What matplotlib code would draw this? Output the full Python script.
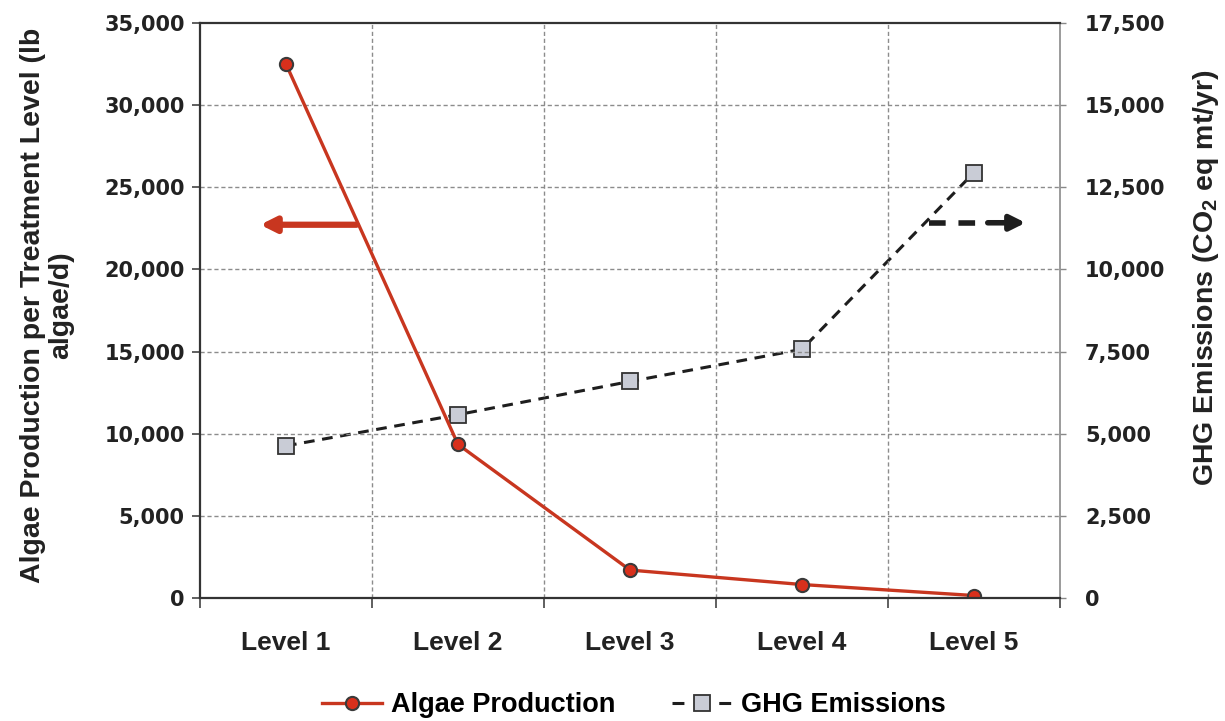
import matplotlib.pyplot as plt
from matplotlib.lines import Line2D
import numpy as np

plt.rcParams.update({
    "font.family": ["Liberation Sans", "DejaVu Sans"],
    "font.weight": "bold",
    "mathtext.default": "regular",
})

levels = ["Level 1", "Level 2", "Level 3", "Level 4", "Level 5"]
algae = [32500, 9350, 1700, 820, 150]        # lb algae/d
ghg = [4630, 5580, 6590, 7570, 12950]        # CO2 eq mt/yr

# arrow annotations (data coords)
red_arrow = ((0.41, 22720), (-0.15, 22720))
black_arrow = ((3.74, 11420), (4.30, 11420))

x = np.arange(len(levels))

fig = plt.figure(figsize=(12.25, 7.21), dpi=100)
ax = fig.add_axes([200/1225, 123/721, 860/1225, 575/721])
ax2 = ax.twinx()
ax.set_zorder(ax2.get_zorder() + 1)
ax.patch.set_visible(False)

ghg_kw = dict(color='#1e1e1e', linewidth=2.2, marker='s', markersize=11,
              markerfacecolor='#c9ccd6', markeredgecolor='#333333', markeredgewidth=1.3)
l2, = ax2.plot(x, ghg, linestyle=(0, (3.5, 2.5)), **ghg_kw)
l1, = ax.plot(x, algae, color='#c8361f', linewidth=2.4,
              marker='o', markersize=9.5, markerfacecolor='#d8301c',
              markeredgecolor='#3a3a3a', markeredgewidth=1.5, label="Algae Production")

ax.set_xlim(-0.5, 4.5)
ax.set_ylim(0, 35000)
ax2.set_ylim(0, 17500)

ax.set_yticks(np.arange(0, 35001, 5000))
ax2.set_yticks(np.arange(0, 17501, 2500))
ax.set_yticklabels([f"{v:,}" for v in range(0, 35001, 5000)],
                   family="DejaVu Sans", fontsize=15, fontweight='bold', color='#222222')
ax2.set_yticklabels([f"{v:,}" for v in range(0, 17501, 2500)],
                    family="DejaVu Sans", fontsize=15, fontweight='bold', color='#222222')

# category boundaries carry ticks + grid, labels sit at centres
ax.set_xticks(np.arange(-0.5, 4.6, 1.0))
ax.set_xticklabels([])
ax.set_xticks(x, minor=True)
ax.set_xticklabels(levels, minor=True, fontsize=19, fontweight='bold', color='#222222')
ax.tick_params(axis='x', which='minor', length=0, pad=24)
ax.tick_params(axis='x', which='major', length=7, width=1.2, color='#444444', direction='out')
ax.tick_params(axis='y', length=6, width=1.2, color='#444444', pad=5)
ax2.tick_params(axis='y', length=4, width=1, color='#888888', pad=14)

grid_style = dict(color='#8c8c8c', linestyle=(0, (3, 2)), linewidth=1)
for gx in np.arange(0.5, 4.0, 1.0):
    ax.axvline(gx, **grid_style, zorder=0)
for gy in range(5000, 35000, 5000):
    ax.axhline(gy, **grid_style, zorder=0)

for side in ['left', 'bottom', 'top']:
    ax.spines[side].set_color('#333333')
    ax.spines[side].set_linewidth(1.6)
ax.spines['right'].set_visible(False)
for side in ['left', 'bottom', 'top']:
    ax2.spines[side].set_visible(False)
ax2.spines['right'].set_color('#8a8a8a')
ax2.spines['right'].set_linewidth(1.2)

ax.set_ylabel("Algae Production per Treatment Level (lb\nalgae/d)",
              fontsize=20.5, fontweight='bold', color='#222222', linespacing=1.12)
ax.yaxis.set_label_coords(-0.178, 0.509)
ax.yaxis.label.set_verticalalignment('center')

ax2.set_ylabel("GHG Emissions (CO$_2$ eq mt/yr)", fontsize=20.5,
               fontweight='bold', color='#222222', rotation=90)
ax2.yaxis.set_label_coords(1.170, 0.557)
ax2.yaxis.label.set_verticalalignment('center')

# direction arrows
ax.annotate("", xy=red_arrow[1], xytext=red_arrow[0],
            arrowprops=dict(arrowstyle='-|>,head_length=0.9,head_width=0.45',
                            color='#c8361f', lw=4.5, shrinkA=0, shrinkB=0))
ax2.plot([black_arrow[0][0], 4.05], [black_arrow[0][1], black_arrow[1][1]],
         color='#1e1e1e', linewidth=4, linestyle=(0, (3.0, 2.3)), solid_capstyle='butt')
ax2.annotate("", xy=black_arrow[1], xytext=(4.08, black_arrow[1][1]),
             arrowprops=dict(arrowstyle='-|>,head_length=0.9,head_width=0.45',
                             color='#1e1e1e', lw=4, shrinkA=0, shrinkB=0))

# legend proxy so the dashed handle reads "- [] -"
ghg_handle = Line2D([], [], linestyle=(0, (3.9, 11.4)), label="GHG Emissions", **ghg_kw)
fig.legend(handles=[l1, ghg_handle], loc='center', bbox_to_anchor=(634/1225, 16/721),
           ncol=2, frameon=False, fontsize=19.5, handlelength=2.2,
           handletextpad=0.35, columnspacing=2.1)

plt.savefig("out.png", dpi=100)
